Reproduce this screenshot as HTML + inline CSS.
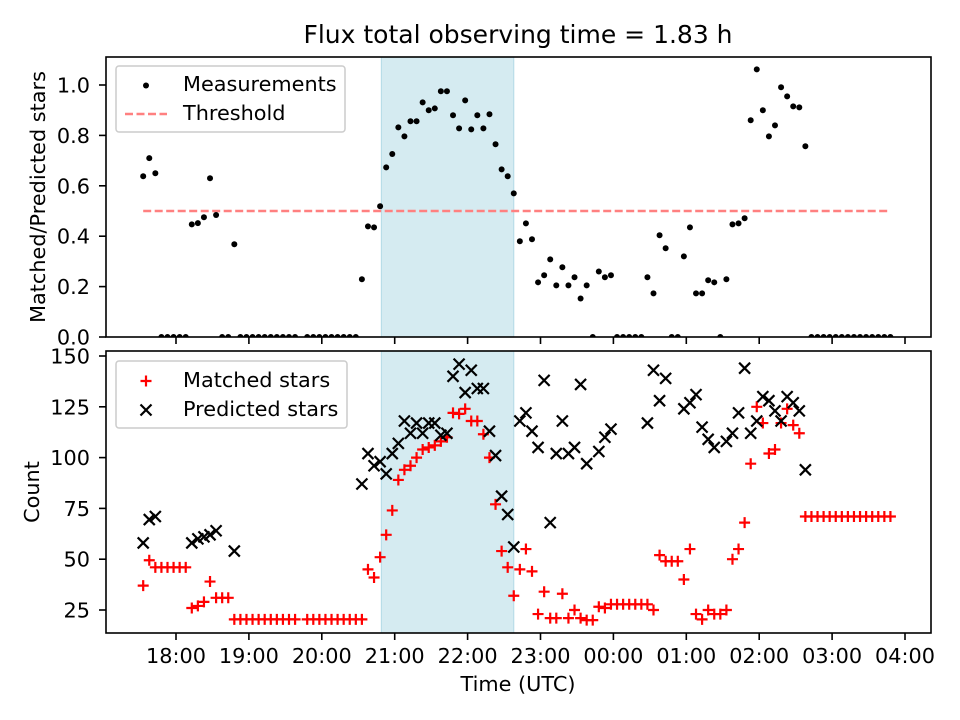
<!DOCTYPE html>
<html><head><meta charset="utf-8"><style>
body{margin:0;background:#fff}
svg{display:block;font-family:"DejaVu Sans","Liberation Sans",sans-serif}
</style></head><body>
<svg id="fig" width="960" height="720" viewBox="0 0 960 720"></svg>
<script>
const times=["17:33","17:38","17:43","17:48","17:53","17:58","18:03","18:08","18:13","18:18","18:23","18:28","18:33","18:38","18:43","18:48","18:53","18:58","19:03","19:08","19:13","19:18","19:23","19:28","19:33","19:38","19:43","19:48","19:53","19:58","20:03","20:08","20:13","20:18","20:23","20:28","20:33","20:38","20:43","20:48","20:53","20:58","21:03","21:08","21:13","21:18","21:23","21:28","21:33","21:38","21:43","21:48","21:53","21:58","22:03","22:08","22:13","22:18","22:23","22:28","22:33","22:38","22:43","22:48","22:53","22:58","23:03","23:08","23:13","23:18","23:23","23:28","23:33","23:38","23:43","23:48","23:53","23:58","00:03","00:08","00:13","00:18","00:23","00:28","00:33","00:38","00:43","00:48","00:53","00:58","01:03","01:08","01:13","01:18","01:23","01:28","01:33","01:38","01:43","01:48","01:53","01:58","02:03","02:08","02:13","02:18","02:23","02:28","02:33","02:38","02:43","02:48","02:53","02:58","03:03","03:08","03:13","03:18","03:23","03:28","03:33","03:38","03:43","03:48"];
const ratio=[0.638,0.71,0.65,0,0,0,0,0,0.447,0.452,0.475,0.63,0.484,0,0,0.368,0,0,0,0,0,0,0,0,0,0,null,0,0,0,0,0,0,0,0,0,0.229,0.439,0.435,0.519,0.673,0.726,0.832,0.796,0.856,0.856,0.931,0.9,0.907,0.975,0.975,0.88,0.828,0.939,0.824,0.88,0.828,0.884,0.765,0.665,0.638,0.57,0.38,0.451,0.388,0.217,0.245,0.308,0.205,0.277,0.205,0.237,0.153,0.205,0,0.26,0.237,0.245,0,0,0,0,0,0.237,0.173,0.404,0.352,0,0,0.32,0.435,0.173,0.173,0.225,0.217,0,0.229,0.447,0.451,0.471,0.86,1.062,0.9,0.796,0.84,0.991,0.955,0.915,0.911,0.757,0,0,0,0,0,0,0,0,0,0,0,0,0,0];
const matched=[37,49.5,46,46,46,46,46,46,26,27,29,39,31,31,31,20.4,20.4,20.4,20.4,20.4,20.4,20.4,20.4,20.4,20.4,20.4,null,20.4,20.4,20.4,20.4,20.4,20.4,20.4,20.4,20.4,20.4,45,41,51,62,74,89,94,96,100,104,105,106,108,110,122,121.5,124,118,118,111.5,100,77,54,46,32,45,55,44,23,34,21,21,33,21,25,21,20,20,26.6,26,27.8,27.8,27.8,27.8,27.8,27.8,27.8,25,52,49,49,49,40,55,23,20.4,25,23,23,25,50,55,68,97,125,117,102,104,117,124,116,112,71,71,71,71,71,71,71,71,71,71,71,71,71,71,71];
const predicted=[58,69.5,71,null,null,null,null,null,58,60,61,62,64,null,null,54,null,null,null,null,null,null,null,null,null,null,null,null,null,null,null,null,null,null,null,null,87,102,96,98,92,102,107,118,112,117,112,117,117,111,112,140,146,132,143,134,134,113,101,81,72,56,118,122,113,105,138,68,102,118,102,105,136,97,null,103,110,114,null,null,null,null,null,117,143,128,139,null,null,124,127,131,115,109,105,null,108,112,122,144,112,118,130,128,123,118,130,127,123,94,null,null,null,null,null,null,null,null,null,null,null,null,null,null];
const threshold=0.5;
const thresholdRange=["17:33","03:48"];
const spanRange=["20:49","22:38"];
const xTickLabels=["18:00","19:00","20:00","21:00","22:00","23:00","00:00","01:00","02:00","03:00","04:00"];
const yTopTicks=[0.0,0.2,0.4,0.6,0.8,1.0];
const yBotTicks=[25,50,75,100,125,150];

const NS="http://www.w3.org/2000/svg";
const svg=document.getElementById('fig');
function mk(tag,attrs,parent){const e=document.createElementNS(NS,tag);for(const k in attrs)e.setAttribute(k,attrs[k]);(parent||svg).appendChild(e);return e;}
function hrs(t){let [h,m]=t.split(':').map(Number);if(h<12)h+=24;return h+m/60;}
const L=106,R=931;
const X0=17.0,PXH=72.9,XPX0=103.1;
function xs(t){return XPX0+(hrs(t)-X0)*PXH;}
const TT=57,TB=337; function yt(v){return 337-v*252;}
const BT=351,BB=633; function yb(v){return 610-(v-25)*2.032;}
const FS=20.8;

const defs=mk('defs',{});
const cpT=mk('clipPath',{id:'clipTop'},defs);mk('rect',{x:L,y:TT,width:R-L,height:TB-TT},cpT);
const cpB=mk('clipPath',{id:'clipBot'},defs);mk('rect',{x:L,y:BT,width:R-L,height:BB-BT},cpB);

let t=mk('text',{x:518,y:43,'font-size':25,'text-anchor':'middle',fill:'#000'});t.textContent='Flux total observing time = 1.83 h';



function panel(top,bot,name){
  const g=mk('g',{});
  
  
  const sp=mk('rect',{x:xs(spanRange[0]),y:top,width:xs(spanRange[1])-xs(spanRange[0]),height:bot-top,fill:'#d5ebf1',stroke:'#b3dae6','stroke-width':1},g);
  
  
  return g;
}
function frame(g,top,bot){
  const f=mk('rect',{x:L,y:top,width:R-L,height:bot-top,fill:'none',stroke:'#000','stroke-width':1.6},g);
  
  
  xTickLabels.forEach(lbl=>{const x=xs(lbl);const tk=mk('line',{x1:x,x2:x,y1:bot,y2:bot+7,stroke:'#000','stroke-width':1.6},g);
    
    });
}

// TOP PANEL
const gt=panel(TT,TB,'top-panel');
const gtd=mk('g',{'clip-path':'url(#clipTop)'},gt);
const th=mk('line',{x1:xs(thresholdRange[0]),x2:xs(thresholdRange[1]),y1:yt(threshold),y2:yt(threshold),stroke:'#ff8080','stroke-width':2.4,'stroke-dasharray':'8,3.5'},gtd);


ratio.forEach((v,i)=>{if(v===null)return;const c=mk('circle',{cx:xs(times[i]),cy:yt(v),r:3,fill:'#000'},gtd);
  
  });
frame(gt,TT,TB);
yTopTicks.forEach(v=>{const y=yt(v);mk('line',{x1:L-7,x2:L,y1:y,y2:y,stroke:'#000','stroke-width':1.6},gt);const tx=mk('text',{x:L-16,y:y+7.5,'font-size':FS,'text-anchor':'end'},gt);tx.textContent=v.toFixed(1);
  
  });
let yl=mk('text',{x:0,y:0,'font-size':FS,'text-anchor':'middle',transform:'translate(45,197) rotate(-90)'},gt);yl.textContent='Matched/Predicted stars';



const lg=mk('g',{},gt);


mk('rect',{x:116,y:66,width:229,height:66,rx:3,fill:'#fff','fill-opacity':0.8,stroke:'#ccc','stroke-width':1.5},lg);
mk('circle',{cx:146,cy:85.5,r:3,fill:'#000'},lg);
let lt=mk('text',{x:183,y:91,'font-size':FS},lg);lt.textContent='Measurements';
mk('line',{x1:125,x2:167,y1:114,y2:114,stroke:'#ff8080','stroke-width':2.4,'stroke-dasharray':'8,3.5'},lg);
lt=mk('text',{x:183,y:120,'font-size':FS},lg);lt.textContent='Threshold';

// BOTTOM PANEL
const gb=panel(BT,BB,'bottom-panel');
const gbd=mk('g',{'clip-path':'url(#clipBot)'},gb);
function plus(x,y,g){return mk('path',{d:`M${x-5.5},${y}H${x+5.5}M${x},${y-5.5}V${y+5.5}`,stroke:'#f00','stroke-width':2.2,fill:'none'},g);}
function cross(x,y,g){return mk('path',{d:`M${x-5.5},${y-5.5}L${x+5.5},${y+5.5}M${x-5.5},${y+5.5}L${x+5.5},${y-5.5}`,stroke:'#000','stroke-width':2.2,fill:'none'},g);}
matched.forEach((v,i)=>{if(v===null)return;const p=plus(xs(times[i]),yb(v),gbd);
  
  });
predicted.forEach((v,i)=>{if(v===null)return;const p=cross(xs(times[i]),yb(v),gbd);
  
  });
frame(gb,BT,BB);
yBotTicks.forEach(v=>{const y=yb(v);mk('line',{x1:L-7,x2:L,y1:y,y2:y,stroke:'#000','stroke-width':1.6},gb);const tx=mk('text',{x:L-16,y:y+7.5,'font-size':FS,'text-anchor':'end'},gb);tx.textContent=String(v);
  
  });
xTickLabels.forEach(lbl=>{const tx=mk('text',{x:xs(lbl),y:663,'font-size':FS,'text-anchor':'middle'},gb);tx.textContent=lbl;
  
  });
yl=mk('text',{x:0,y:0,'font-size':FS,'text-anchor':'middle',transform:'translate(39,492) rotate(-90)'},gb);yl.textContent='Count';


let xl=mk('text',{x:518,y:691,'font-size':FS,'text-anchor':'middle'},gb);xl.textContent='Time (UTC)';



const lb=mk('g',{},gb);


mk('rect',{x:116,y:361,width:231,height:67,rx:3,fill:'#fff','fill-opacity':0.8,stroke:'#ccc','stroke-width':1.5},lb);
plus(146,381,lb);
lt=mk('text',{x:183,y:387,'font-size':FS},lb);lt.textContent='Matched stars';
cross(146,410,lb);
lt=mk('text',{x:183,y:416,'font-size':FS},lb);lt.textContent='Predicted stars';
</script>
</body></html>
